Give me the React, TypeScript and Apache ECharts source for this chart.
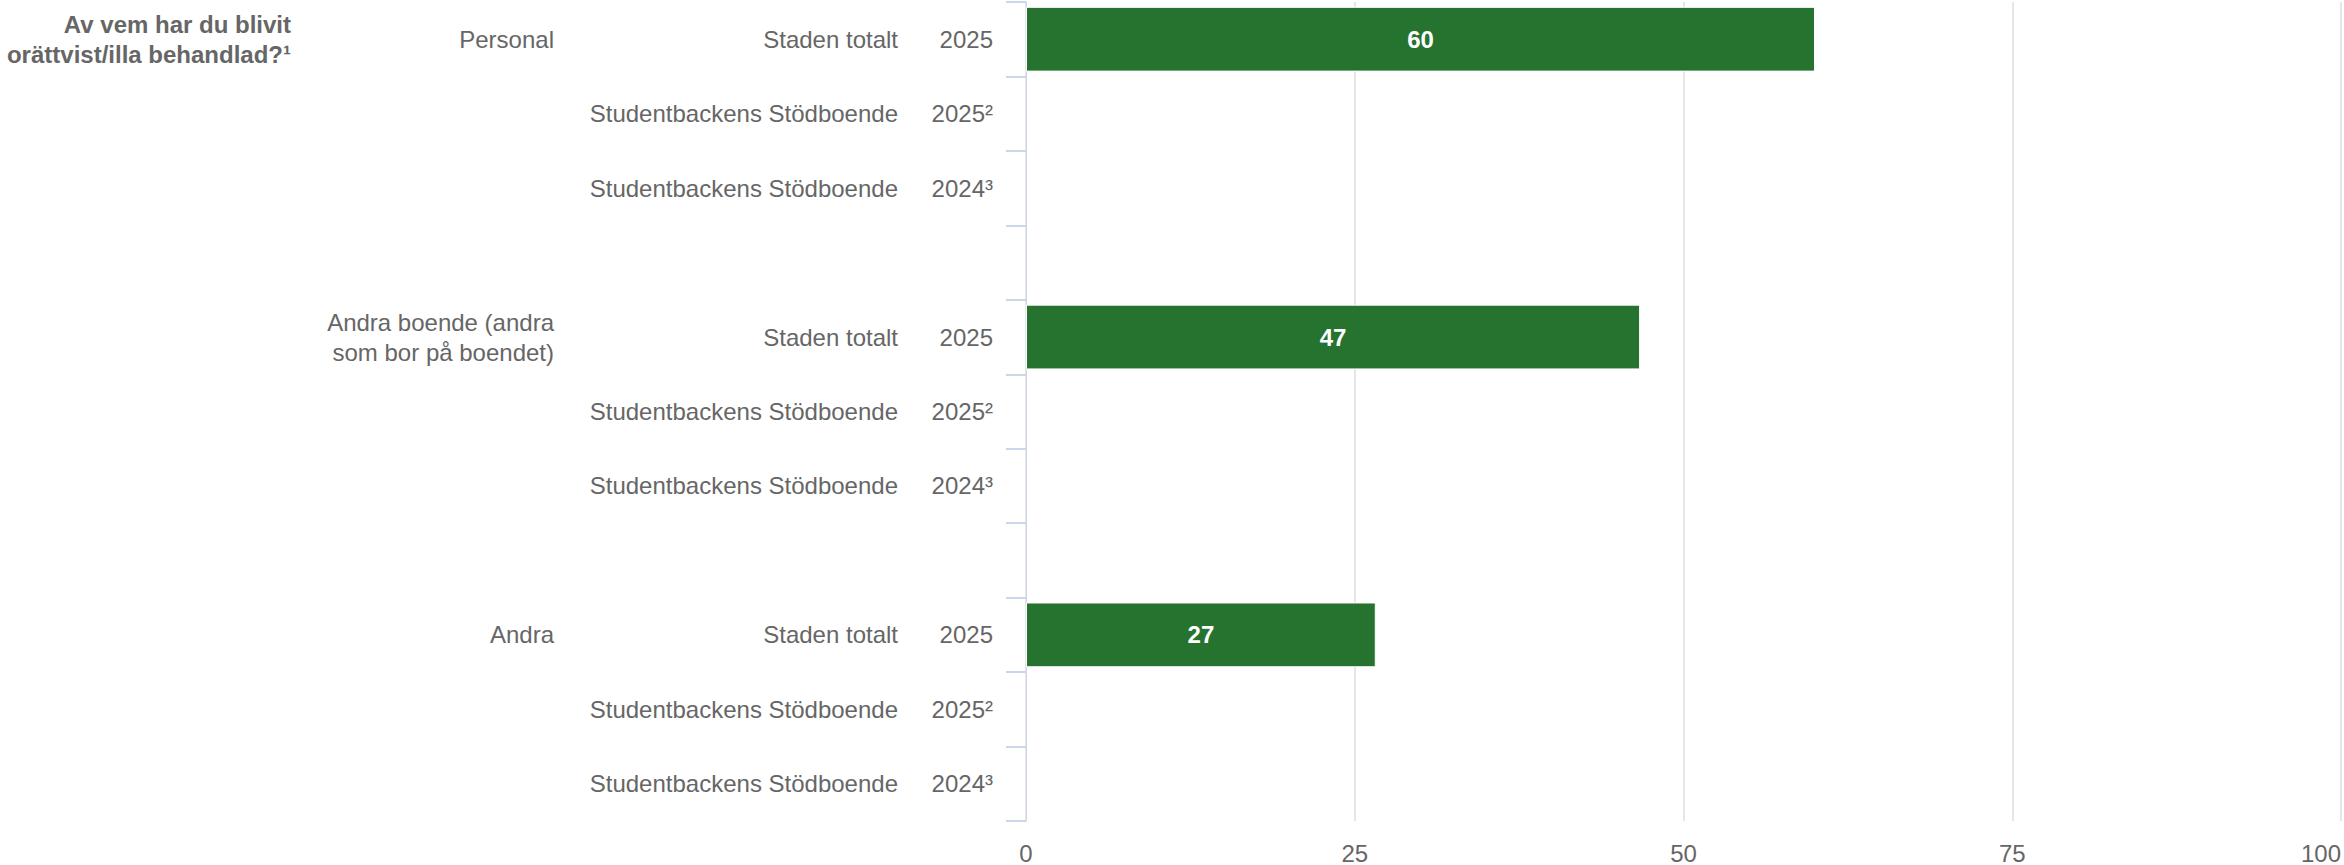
import React, { useEffect, useRef } from "react";
import * as echarts from "echarts";

const questionTitle = "Av vem har du blivit\norättvist/illa behandlad?¹";
const groups = ["Personal", "Andra boende (andra\nsom bor på boendet)", "Andra"];
const units = ["Staden totalt", "Studentbackens Stödboende", "Studentbackens Stödboende"];
const years = ["2025", "2025²", "2024³"];
const personalValues: (number | null)[] = [60, null, null];
const andraBoendeValues: (number | null)[] = [46.7, null, null];
const andraValues: (number | null)[] = [26.6, null, null];
const groupValues = [personalValues, andraBoendeValues, andraValues];
const xTicks = [0, 25, 50, 75, 100];

const FONT = "'Liberation Sans', Arial, Helvetica, sans-serif";
const LABEL_COLOR = "#666666";

// Build row lists (3 rows per group, one empty spacer row between groups)
const yearRows: string[] = [];
const unitRows: string[] = [];
const groupRows: string[] = [];
const titleRows: string[] = [];
const valueRows: (number | null)[] = [];
groups.forEach((g, gi) => {
  years.forEach((y, ri) => {
    yearRows.push(y);
    unitRows.push(units[ri]);
    groupRows.push(ri === 0 ? g : "");
    titleRows.push(gi === 0 && ri === 0 ? questionTitle : "");
    valueRows.push(groupValues[gi][ri]);
  });
  if (gi < groups.length - 1) {
    yearRows.push("");
    unitRows.push("");
    groupRows.push("");
    titleRows.push("");
    valueRows.push(null);
  }
});

export default function App() {
  const ref = useRef<HTMLDivElement>(null);
  useEffect(() => {
    if (!ref.current) return;
    const chart = echarts.init(ref.current, undefined, { renderer: "svg" });
    const labelAxis = (data: string[], offset: number, extra: any = {}) => ({
      type: "category",
      inverse: true,
      data,
      position: "left",
      offset,
      axisLine: { show: false },
      axisTick: { show: false },
      splitLine: { show: false },
      axisLabel: {
        interval: 0,
        margin: 0,
        fontSize: 24,
        color: LABEL_COLOR,
        fontFamily: FONT,
        lineHeight: 30,
        align: "right",
        padding: [4, 0, 0, 0],
        ...extra,
      },
    });
    chart.setOption({
      animation: false,
      backgroundColor: "#ffffff",
      textStyle: { fontFamily: FONT },
      grid: { left: 1026, right: 3, top: 2, bottom: 44, containLabel: false },
      xAxis: {
        type: "value",
        min: xTicks[0],
        max: xTicks[xTicks.length - 1],
        interval: xTicks[1] - xTicks[0],
        axisLine: { show: false },
        axisTick: { show: false },
        splitLine: { show: true, lineStyle: { color: "#e6e6e6", width: 2 } },
        axisLabel: {
          fontSize: 24,
          color: LABEL_COLOR,
          fontFamily: FONT,
          margin: 20,
          alignMaxLabel: "right",
        },
      },
      yAxis: [
        {
          type: "category",
          inverse: true,
          data: yearRows,
          position: "left",
          axisLine: { show: true, lineStyle: { color: "#ccd6eb", width: 1 } },
          axisTick: { show: true, length: 20, lineStyle: { color: "#ccd6eb", width: 2 } },
          splitLine: { show: false },
          axisLabel: {
            interval: 0,
            margin: 33,
            fontSize: 24,
            color: LABEL_COLOR,
            fontFamily: FONT,
            align: "right",
            padding: [4, 0, 0, 0],
          },
        },
        labelAxis(unitRows, 128),
        labelAxis(groupRows, 472),
        labelAxis(titleRows, 735, { fontWeight: "bold" }),
      ],
      series: [
        {
          type: "bar",
          yAxisIndex: 0,
          data: valueRows,
          barCategoryGap: "13%",
          itemStyle: { color: "#25732f", borderColor: "#ffffff", borderWidth: 1 },
          label: {
            show: true,
            position: "inside",
            color: "#ffffff",
            fontSize: 24,
            fontWeight: "bold",
            fontFamily: FONT,
            formatter: (p: any) => (p.value == null ? "" : String(Math.round(p.value))),
          },
        },
      ],
    });
    return () => chart.dispose();
  }, []);
  return (
    <div
      ref={ref}
      style={{ position: "absolute", left: 0, top: 0, width: 2344, height: 865 }}
    />
  );
}
